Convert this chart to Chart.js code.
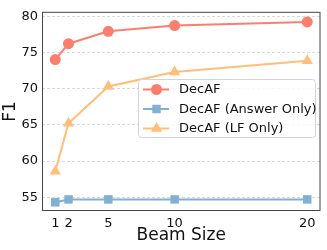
<!DOCTYPE html>
<html>
<head>
<meta charset="utf-8">
<script src="https://cdn.jsdelivr.net/npm/chart.js@4/dist/chart.umd.min.js"></script>
<style>
  html, body { margin: 0; padding: 0; background: #fff; }
  #wrap { width: 327px; height: 250px; }
</style>
</head>
<body>
<div id="wrap"><canvas id="beamChart" width="327" height="250"></canvas></div>
<script>
// Beam size vs F1
const beamSizes = [1, 2, 5, 10, 20];
const decafF1 = [74.0, 76.2, 77.9, 78.7, 79.2];
const answerOnlyF1 = [54.3, 54.7, 54.7, 54.7, 54.7];
const lfOnlyF1 = [58.6, 65.2, 70.3, 72.3, 73.85];
const yTicks = [55, 60, 65, 70, 75, 80];

const FONT = 'DejaVu Sans';

function toPoints(values) {
    return beamSizes.map((b, i) => ({ x: b, y: values[i] }));
}

// Box around the plot area (all four spines)
const frame = {
    id: 'frame',
    afterDatasetsDraw(chart) {
        const { ctx, chartArea: a } = chart;
        ctx.save();
        ctx.strokeStyle = '#444';
        ctx.lineWidth = 1;
        ctx.strokeRect(a.left + 0.5, a.top + 0.5, a.right - a.left - 1, a.bottom - a.top - 1);
        ctx.restore();
    }
};

// Legend drawn inside the plot, like matplotlib's
const innerLegend = {
    id: 'innerLegend',
    afterDraw(chart) {
        const { ctx } = chart;
        const box = { x: 138.5, y: 79.5, w: 177, h: 58 };
        ctx.save();
        ctx.fillStyle = 'rgba(255,255,255,0.8)';
        ctx.strokeStyle = '#d4d4d4';
        ctx.lineWidth = 1;
        ctx.beginPath();
        ctx.roundRect(box.x, box.y, box.w, box.h, 3);
        ctx.fill();
        ctx.stroke();
        ctx.font = '13px ' + FONT;
        ctx.textBaseline = 'middle';
        chart.data.datasets.forEach((ds, i) => {
            const y = 89.5 + i * 19.5;
            ctx.strokeStyle = ds.borderColor;
            ctx.lineWidth = 2;
            ctx.beginPath();
            ctx.moveTo(143, y);
            ctx.lineTo(169, y);
            ctx.stroke();
            ctx.fillStyle = ds.backgroundColor;
            Chart.helpers.drawPoint(ctx, {
                pointStyle: ds.pointStyle,
                radius: ds.pointRadius,
                rotation: 0,
                borderWidth: 0
            }, 156.5, y);
            ctx.fillStyle = '#111';
            ctx.fillText(ds.label, 179, y + 0.5);
        });
        ctx.restore();
    }
};

new Chart(document.getElementById('beamChart'), {
    type: 'line',
    data: {
        datasets: [
            {
                label: 'DecAF',
                data: toPoints(decafF1),
                borderColor: '#FA7F6F',
                backgroundColor: '#FA7F6F',
                pointStyle: 'circle',
                pointRadius: 5.5
            },
            {
                label: 'DecAF (Answer Only)',
                data: toPoints(answerOnlyF1),
                borderColor: '#82B0D2',
                backgroundColor: '#82B0D2',
                pointStyle: 'rect',
                pointRadius: 6
            },
            {
                label: 'DecAF (LF Only)',
                data: toPoints(lfOnlyF1),
                borderColor: '#FFBE7A',
                backgroundColor: '#FFBE7A',
                pointStyle: 'triangle',
                pointRadius: 6.5
            }
        ]
    },
    options: {
        responsive: false,
        animation: false,
        clip: false,
        layout: { padding: { top: 5, right: 4, left: 0, bottom: 0 } },
        elements: {
            line: { borderWidth: 2, tension: 0 },
            point: { borderWidth: 0 }
        },
        plugins: {
            legend: { display: false },
            tooltip: { enabled: false }
        },
        scales: {
            x: {
                type: 'linear',
                min: 0,
                max: 21,
                afterBuildTicks: axis => { axis.ticks = beamSizes.map(v => ({ value: v })); },
                afterFit: axis => { axis.height = 39; },
                grid: { display: false, drawTicks: true, tickLength: 4, tickColor: '#444' },
                border: { display: false },
                ticks: { color: '#111', font: { family: FONT, size: 13 }, padding: 1, maxRotation: 0, autoSkip: false },
                title: { display: true, text: 'Beam Size', color: '#111', font: { family: FONT, size: 17 }, padding: { top: 0 } }
            },
            y: {
                min: 53.1,
                max: 80.6,
                afterBuildTicks: axis => { axis.ticks = yTicks.map(v => ({ value: v })); },
                afterFit: axis => { axis.width = 42; },
                grid: { color: '#cfcfcf', lineWidth: 0.8, drawTicks: false },
                border: { display: false, dash: [3, 2] },
                ticks: { color: '#111', font: { family: FONT, size: 13 }, padding: 4 },
                title: { display: true, text: 'F1', color: '#111', font: { family: FONT, size: 17 }, padding: 0 }
            }
        }
    },
    plugins: [frame, innerLegend]
});
</script>
</body>
</html>
